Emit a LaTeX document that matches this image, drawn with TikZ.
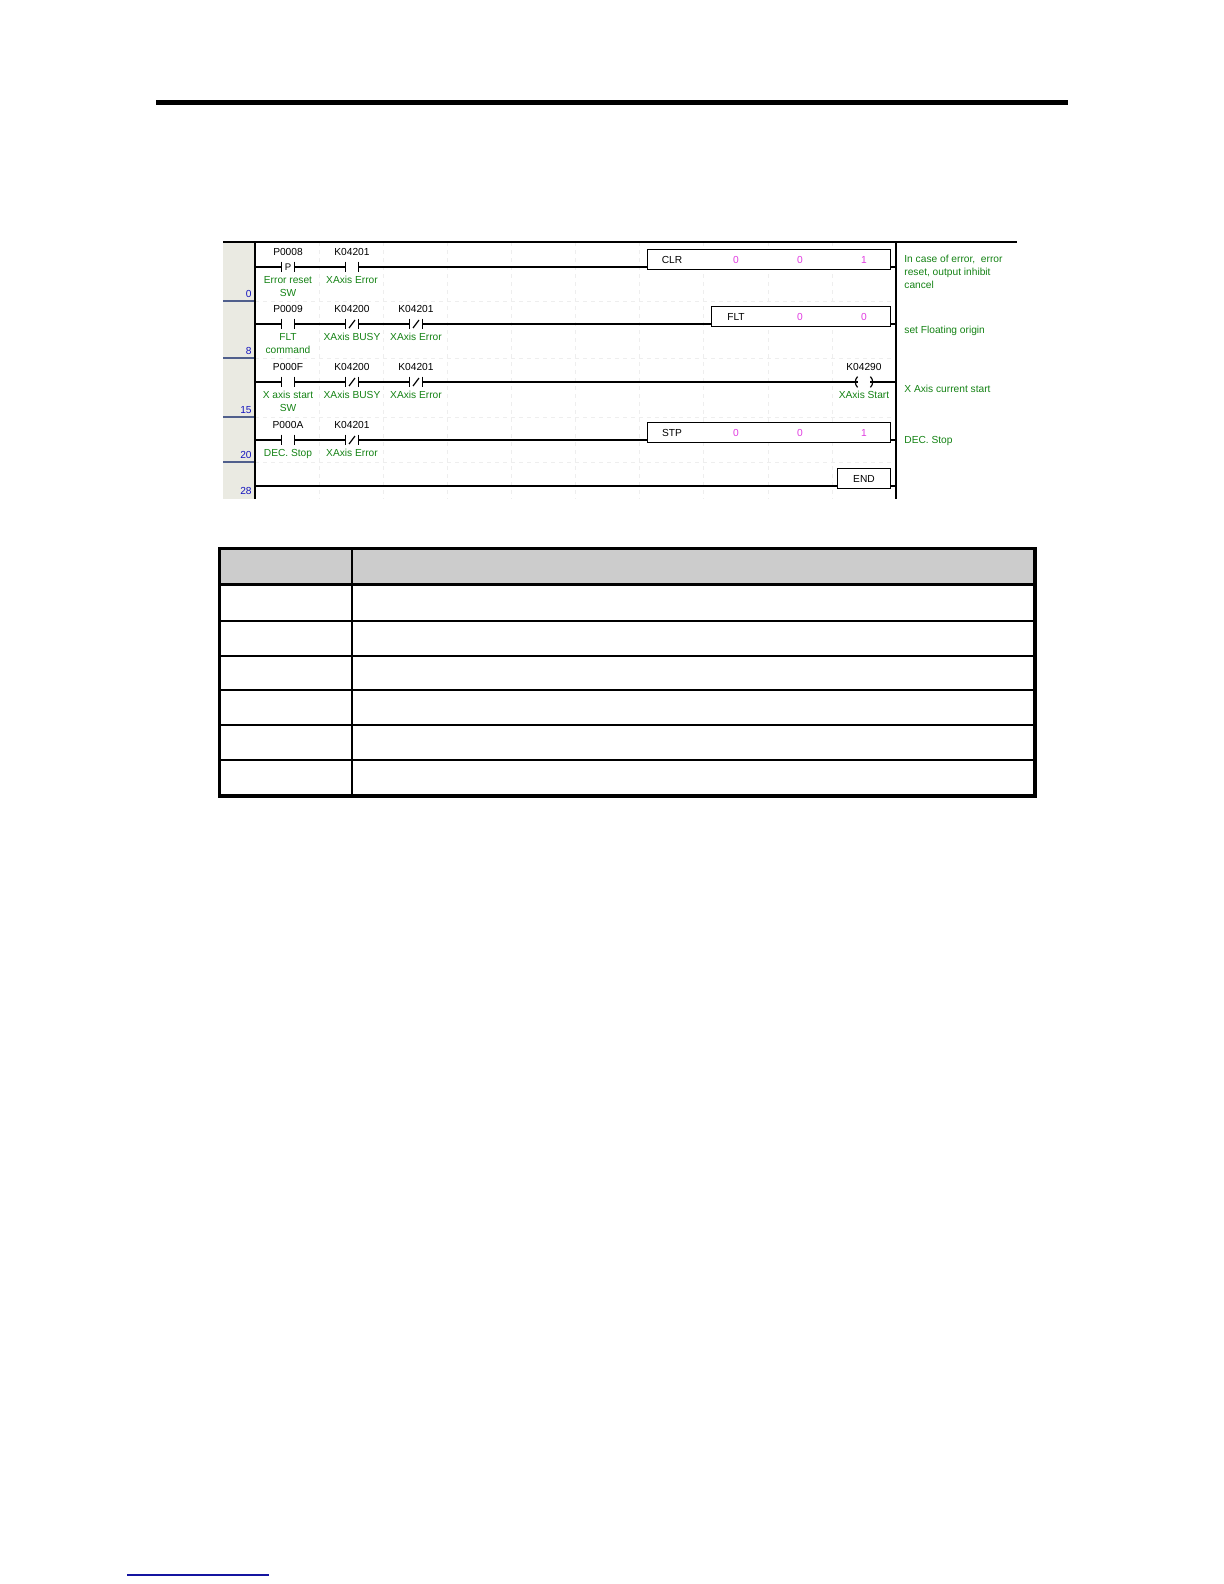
\documentclass[tikz,border=0pt]{standalone}
\usepackage{fontspec}
\setmainfont{Liberation Sans}
\usetikzlibrary{positioning}

\definecolor{cmtgreen}{RGB}{20,130,20}
\definecolor{valmagenta}{RGB}{225,60,225}
\definecolor{stepblue}{RGB}{20,20,190}
\definecolor{colgray}{RGB}{234,234,226}
\definecolor{sepblue}{RGB}{80,95,140}
\definecolor{gridgray}{RGB}{238,238,238}
\definecolor{headgray}{RGB}{204,204,204}
\definecolor{footblue}{RGB}{20,20,160}

\begin{document}
\begin{tikzpicture}[x = 0.5pt, y = -0.5pt,
	txt/.style = {font = \fontsize{5.1}{6.5}\selectfont, inner sep = 0pt},
	dev/.style = {txt, black},
	cmt/.style = {txt, text = cmtgreen, align = center},
	note/.style = {txt, text = cmtgreen, align = left},
	val/.style = {txt, text = valmagenta},
	stepno/.style = {txt, text = stepblue},
	rung/.style = {line width = 0.6pt},
	rail/.style = {line width = 1pt},
	contact/.style = {minimum width = 6pt, minimum height = 5pt, inner sep = 0pt},
	fbox/.style = {draw, fill = white, line width = 0.7pt, minimum height = 10pt, inner sep = 0pt, anchor = south west},
	grid/.style = {gridgray, line width = 0.3pt, dash pattern = on 2pt off 2pt}]

	\useasboundingbox (0, 0) rectangle (1224, 1584);

	% Page rules

	\draw [line width = 2.5pt] (156, 102.5) -- (1068, 102.5);
	\draw [footblue, line width = 0.6pt] (127, 1575) -- (269, 1575);

	% Ladder frame

	\fill [colgray] (223, 242) rectangle (255, 499);
	\foreach \x in {319.1, 383.2, 447.3, 511.4, 575.5, 639.6, 703.7, 767.8, 831.9}
		\draw [grid] (\x, 242) -- (\x, 499);
	\foreach \y in {301, 358, 417, 462} {
		\draw [grid] (255, \y) -- (896, \y);
		\draw [sepblue, line width = 0.6pt] (223, \y) -- (255, \y);
	}
	\draw [line width = 0.8pt] (223, 242) -- (1017, 242);
	\draw [rail] (255, 242) -- (255, 499);
	\draw [rail] (896, 242) -- (896, 499);

	% Step numbers

	\foreach \y/\s in {297/0, 354/8, 413/15, 458/20, 494/28}
		\node [stepno, anchor = base east] at (252, \y) {\s};

	% Rung ends

	\foreach \i/\y in {0/267, 1/324, 2/382, 3/440, 4/486} {
		\coordinate (L\i) at (255, \y);
		\coordinate (R\i) at (896, \y);
	}

	% Contacts

	\foreach \n/\x/\y/\dv/\cm in {
		pa/288/267/P0008/{Error reset\\SW},
		ka/352/267/K04201/{XAxis Error},
		pb/288/324/P0009/{FLT\\command},
		kb/352/324/K04200/{XAxis BUSY},
		kc/416/324/K04201/{XAxis Error},
		pc/288/382/P000F/{X axis start\\SW},
		kd/352/382/K04200/{XAxis BUSY},
		ke/416/382/K04201/{XAxis Error},
		pd/288/440/P000A/{DEC. Stop},
		kf/352/440/K04201/{XAxis Error}} {
		\node [contact] (\n) at (\x, \y) {};
		\draw [rung] (\n.north west) -- (\n.south west) (\n.north east) -- (\n.south east);
		\node [dev, above = 3pt of \n] {\dv};
		\node [cmt, below = 1.7pt of \n] {\cm};
	}
	\node [txt, font = \fontsize{4.8}{6}\selectfont] at (pa) {P};
	\foreach \n in {kb, kc, kd, ke, kf}
		\draw [rung] (\n.center) +(-3, 4) -- +(3, -4);

	% Coil

	\node [contact] (coil) at (864, 382) {};
	\draw [rung] (coil.north west) .. controls +(-3, 3) and +(-3, -3) .. (coil.south west);
	\draw [rung] (coil.north east) .. controls +(3, 3) and +(3, -3) .. (coil.south east);
	\node [dev, above = 3pt of coil] {K04290};
	\node [cmt, below = 1.7pt of coil] {XAxis Start};

	% Function boxes

	\node [fbox, minimum width = 121.5pt] (clr) at (647, 270) {};
	\node [fbox, minimum width = 89.5pt] (flt) at (711, 327) {};
	\node [fbox, minimum width = 121.5pt] (stp) at (647, 443) {};
	\node [fbox, minimum width = 26.5pt] (endb) at (837, 489) {};

	\node [dev] at (672, 260) {CLR};
	\node [dev] at (736, 317) {FLT};
	\node [dev] at (672, 433) {STP};
	\node [dev] at (864, 479) {END};
	\foreach \x/\y/\v in {736/260/0, 800/260/0, 864/260/1, 800/317/0, 864/317/0, 736/433/0, 800/433/0, 864/433/1}
		\node [val] at (\x, \y) {\v};

	% Rungs

	\draw [rung] (L0) -- (pa.west) (pa.east) -- (ka.west) (ka.east) -- (ka.east -| clr.west) (clr.east |- R0) -- (R0);
	\draw [rung] (L1) -- (pb.west) (pb.east) -- (kb.west) (kb.east) -- (kc.west) (kc.east) -- (kc.east -| flt.west) (flt.east |- R1) -- (R1);
	\draw [rung] (L2) -- (pc.west) (pc.east) -- (kd.west) (kd.east) -- (ke.west) (ke.east) -- (coil.west) (coil.east) -- (R2);
	\draw [rung] (L3) -- (pd.west) (pd.east) -- (kf.west) (kf.east) -- (kf.east -| stp.west) (stp.east |- R3) -- (R3);
	\draw [rung] (L4) -- (L4 -| endb.west) (endb.east |- R4) -- (R4);

	% Rung comments

	\node [note, anchor = base west] at (904, 288) {In case of error,\ \ error\\reset, output inhibit\\cancel};
	\node [note, anchor = base west] at (904, 333) {set Floating origin};
	\node [note, anchor = base west] at (904, 392) {X Axis current start};
	\node [note, anchor = base west] at (904, 443) {DEC. Stop};

	% Table

	\fill [headgray] (219.5, 548.5) rectangle (1035, 584.5);
	\foreach \y in {621, 656, 690, 725, 760}
		\draw [line width = 0.7pt] (219.5, \y) -- (1035, \y);
	\draw [line width = 0.7pt] (352, 548.5) -- (352, 796);
	\draw [line width = 1.6pt] (219.5, 584.5) -- (1035, 584.5);
	\draw [line width = 1.6pt] (219.5, 548.5) rectangle (1035, 796);

\end{tikzpicture}
\end{document}
